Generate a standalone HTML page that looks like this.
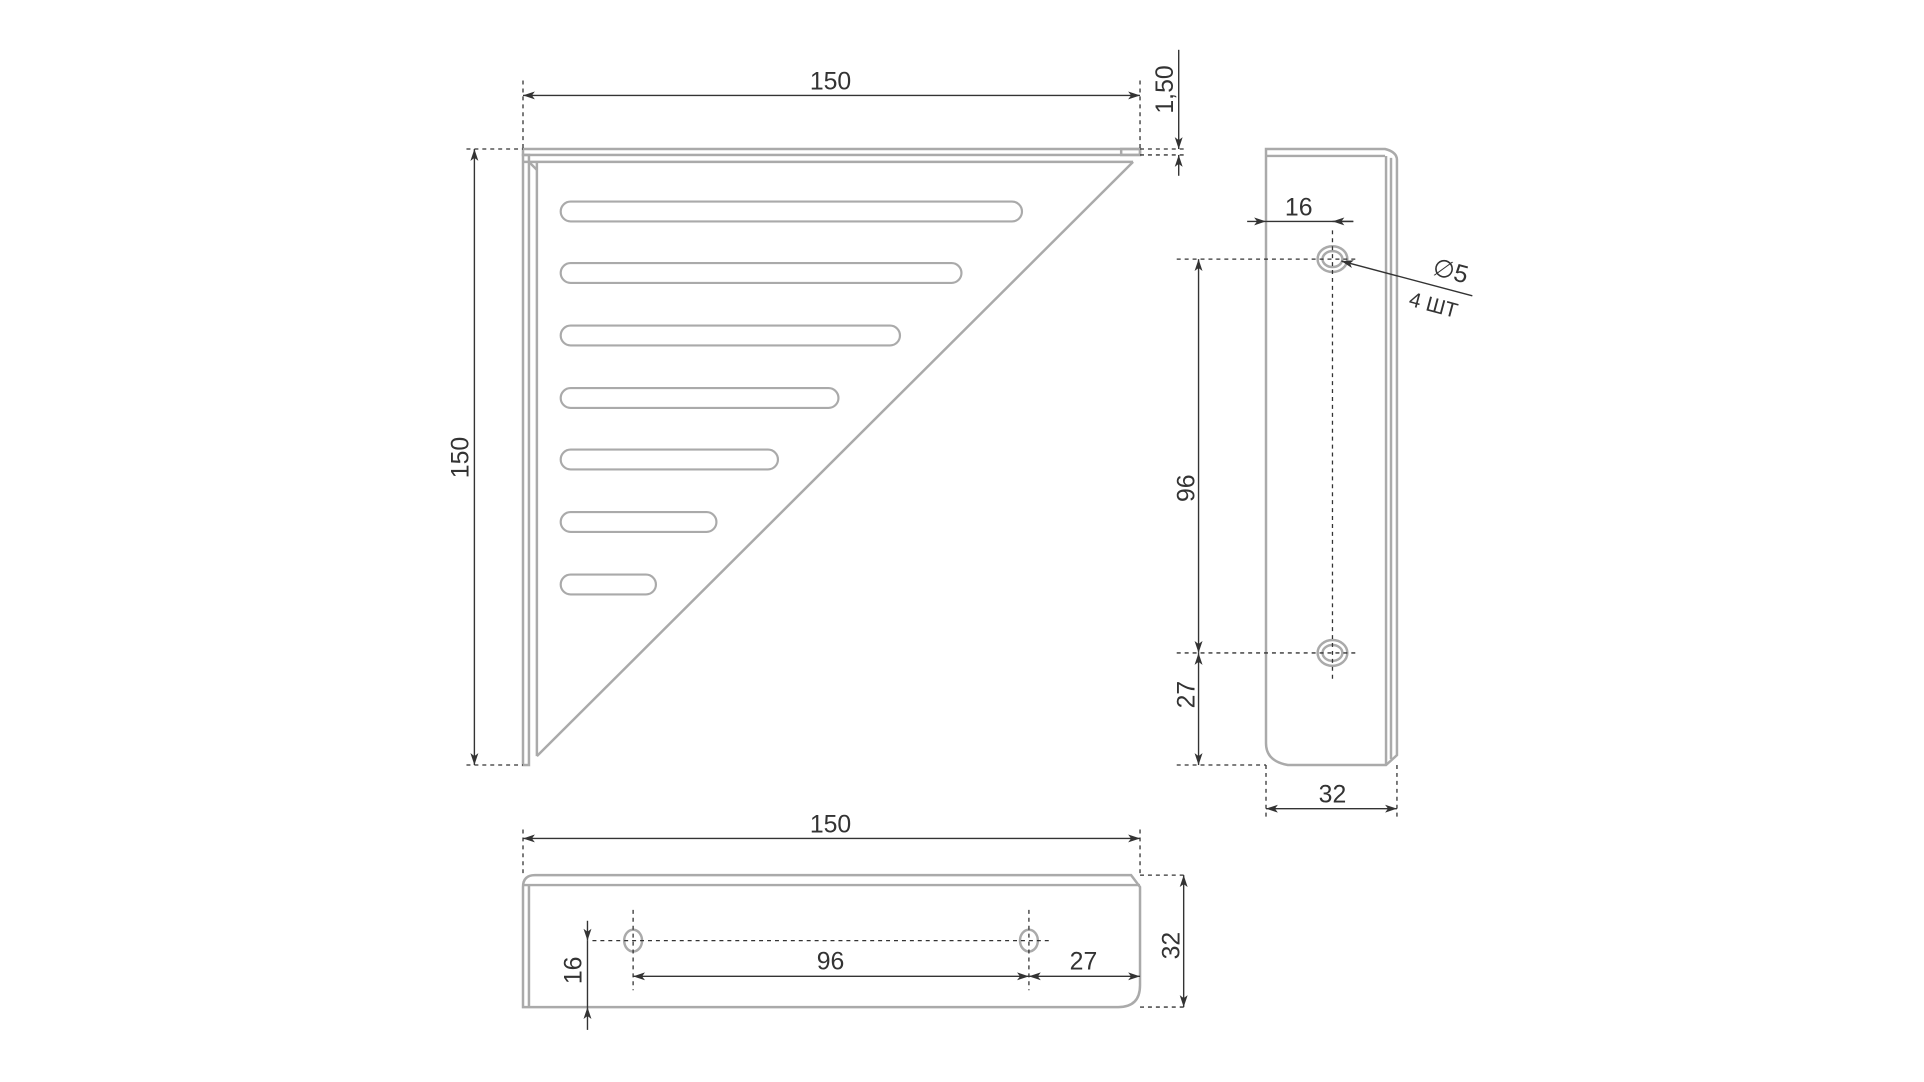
<!DOCTYPE html>
<html><head><meta charset="utf-8"><style>
html,body{margin:0;padding:0;background:#fff}
svg{display:block}
text{font-family:"Liberation Sans",sans-serif;font-size:25px;fill:#333}
</style></head><body>
<svg width="1924" height="1082" viewBox="0 0 1924 1082" xmlns="http://www.w3.org/2000/svg">
<defs>
<marker id="a" viewBox="0 0 12 8" refX="12" refY="4" markerWidth="12" markerHeight="8" orient="auto-start-reverse" markerUnits="userSpaceOnUse">
<path d="M0,0 L12,4 L0,8 L3,4 Z" fill="#333"/></marker>
</defs>
<g transform="translate(523,149) scale(0.992) translate(-525,-149)">
<g fill="none" stroke="#aaa" stroke-width="2.5">
<rect x="525" y="149" width="622" height="6"/>
<line x1="525" y1="162" x2="1140" y2="162"/>
<rect x="525" y="155" width="6" height="615"/>
<line x1="539" y1="162" x2="539" y2="761"/>
<line x1="1140" y1="162" x2="539" y2="761"/>
<line x1="531" y1="162" x2="539" y2="170"/>
<rect x="1128" y="149" width="19" height="6"/>
<g stroke-width="2.2">
<rect x="563" y="202" width="465" height="20" rx="10"/>
<rect x="563" y="264" width="404" height="20" rx="10"/>
<rect x="563" y="327" width="342" height="20" rx="10"/>
<rect x="563" y="390" width="280" height="20" rx="10"/>
<rect x="563" y="452" width="219" height="20" rx="10"/>
<rect x="563" y="515" width="157" height="20" rx="10"/>
<rect x="563" y="578" width="96" height="20" rx="10"/>
</g>
<path d="M1274,149 L1394,149 Q1406,152 1406,160 L1406,760 L1395,770 L1296,770 Q1274,766 1274,748 Z"/>
<line x1="1274" y1="156" x2="1394" y2="156"/>
<line x1="1395" y1="156" x2="1395" y2="770"/>
<line x1="1400" y1="158" x2="1400" y2="764"/>
<ellipse cx="1341" cy="260" rx="15" ry="13"/><ellipse cx="1341" cy="260" rx="10" ry="8"/>
<ellipse cx="1341" cy="657" rx="15" ry="13"/><ellipse cx="1341" cy="657" rx="10" ry="8"/>
<path d="M525,893 Q525,881 537,881 L1138,881 L1147,893 L1147,992 Q1147,1014 1125,1014 L525,1014 Z"/>
<line x1="525" y1="891" x2="1147" y2="891"/>
<line x1="531" y1="891" x2="531" y2="1014"/>
<ellipse cx="636" cy="947" rx="9" ry="11"/>
<ellipse cx="1035" cy="947" rx="9" ry="11"/>
</g>
<g stroke="#333" stroke-width="1.3" fill="none" stroke-dasharray="4,4">
<line x1="525" y1="80" x2="525" y2="149"/><line x1="1147" y1="80" x2="1147" y2="149"/>
<line x1="468" y1="149" x2="525" y2="149"/><line x1="468" y1="770" x2="525" y2="770"/>
<line x1="1147" y1="149" x2="1192" y2="149"/><line x1="1147" y1="155" x2="1192" y2="155"/>
<line x1="1184" y1="260" x2="1365" y2="260"/><line x1="1184" y1="657" x2="1365" y2="657"/>
<line x1="1184" y1="770" x2="1274" y2="770"/>
<line x1="1341" y1="231" x2="1341" y2="683"/>
<line x1="1274" y1="770" x2="1274" y2="826"/><line x1="1406" y1="770" x2="1406" y2="826"/>
<line x1="525" y1="835" x2="525" y2="881"/><line x1="1147" y1="835" x2="1147" y2="881"/>
<line x1="1147" y1="881" x2="1195" y2="881"/><line x1="1147" y1="1014" x2="1195" y2="1014"/>
<line x1="595" y1="947" x2="1055" y2="947"/>
<line x1="636" y1="916" x2="636" y2="997"/><line x1="1035" y1="916" x2="1035" y2="997"/>
</g>
<g stroke="#333" stroke-width="1.4" fill="none">
<line x1="525" y1="95" x2="1147" y2="95" marker-start="url(#a)" marker-end="url(#a)"/>
<line x1="476" y1="149" x2="476" y2="770" marker-start="url(#a)" marker-end="url(#a)"/>
<line x1="1186" y1="49" x2="1186" y2="149" marker-end="url(#a)"/>
<line x1="1186" y1="176" x2="1186" y2="155" marker-end="url(#a)"/>
<line x1="1255" y1="222" x2="1274" y2="222" marker-end="url(#a)"/>
<line x1="1274" y1="222" x2="1362" y2="222"/>
<line x1="1362" y1="222" x2="1341" y2="222" marker-end="url(#a)"/>
<line x1="1206" y1="260" x2="1206" y2="657" marker-start="url(#a)" marker-end="url(#a)"/>
<line x1="1206" y1="657" x2="1206" y2="770" marker-start="url(#a)" marker-end="url(#a)"/>
<line x1="1482" y1="297" x2="1350" y2="262" marker-end="url(#a)"/>
<line x1="1274" y1="814" x2="1406" y2="814" marker-start="url(#a)" marker-end="url(#a)"/>
<line x1="525" y1="844" x2="1147" y2="844" marker-start="url(#a)" marker-end="url(#a)"/>
<line x1="636" y1="983" x2="1035" y2="983" marker-start="url(#a)" marker-end="url(#a)"/>
<line x1="1035" y1="983" x2="1147" y2="983" marker-start="url(#a)" marker-end="url(#a)"/>
<line x1="1191" y1="881" x2="1191" y2="1014" marker-start="url(#a)" marker-end="url(#a)"/>
<line x1="590" y1="927" x2="590" y2="947" marker-end="url(#a)"/>
<line x1="590" y1="1037" x2="590" y2="1014" marker-end="url(#a)"/>
<line x1="590" y1="947" x2="590" y2="1014"/>
</g>
<g text-anchor="middle">
<text x="835" y="89">150</text>
<text transform="translate(470,460) rotate(-90)">150</text>
<text transform="translate(1180,89) rotate(-90)">1,50</text>
<text x="1307" y="216">16</text>
<text transform="translate(1202,491) rotate(-90)">96</text>
<text transform="translate(1202,699) rotate(-90)">27</text>
<text transform="translate(1458,280) rotate(15)">∅5</text>
<text transform="translate(1441,313) rotate(15)" style="font-size:21px">4 ШТ</text>
<text x="1341" y="808">32</text>
<text x="835" y="838">150</text>
<text x="835" y="976">96</text>
<text x="1090" y="976">27</text>
<text transform="translate(584,977) rotate(-90)">16</text>
<text transform="translate(1187,952) rotate(-90)">32</text>
</g>
</g>
</svg>
</body></html>
